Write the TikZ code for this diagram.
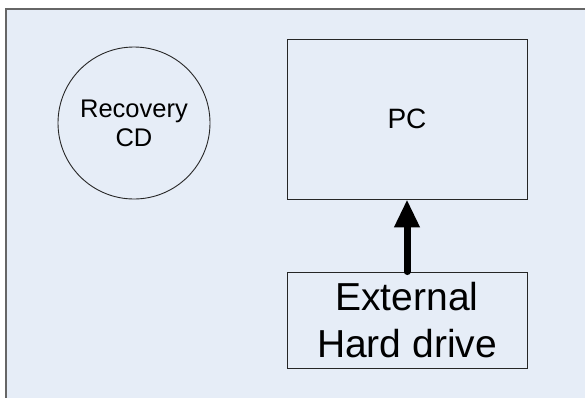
\documentclass[tikz,border=0pt]{standalone}
\usepackage{fontspec}
\setmainfont{Liberation Sans}
\usetikzlibrary{arrows.meta}
\definecolor{paneblue}{HTML}{E6EDF7}
\begin{document}
\begin{tikzpicture}[
    x=1pt, y=-1pt,
    every node/.style={draw=black!85, line width=0.9pt, fill=paneblue, align=center, inner sep=0pt},
    devbox/.style={rectangle, minimum width=240pt},
    link/.style={line width=7pt, line cap=round, -{Triangle[width=24pt,length=28pt]}}
]
\useasboundingbox (0,0) rectangle (585,397);
\fill[white] (0,0) rectangle (585,397);
\draw[black!60, line width=1.5pt, fill=paneblue] (6,9) rectangle (592,404);

\node[circle, minimum size=152pt, font=\fontsize{25.5}{29}\selectfont] (cd) at (134,123) {Recovery\\CD};
\node[devbox, minimum height=160pt, font=\fontsize{28}{34}\selectfont] (pc) at (407,119) {PC};
\node[devbox, minimum height=96pt, font=\fontsize{39}{47}\selectfont] (hdd) at (407,320) {External\\Hard drive};

\draw[link] (hdd.north) -- (pc.south);
\end{tikzpicture}
\end{document}
